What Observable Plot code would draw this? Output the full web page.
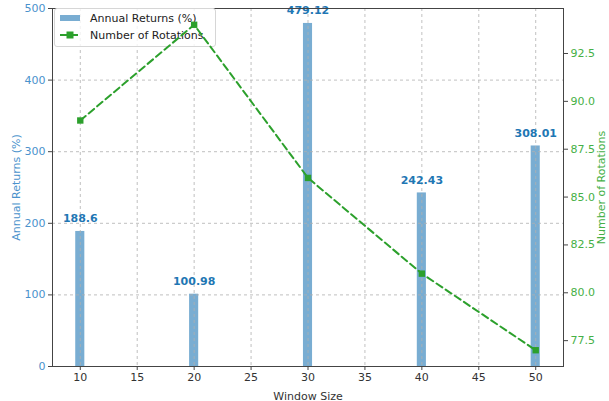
<!DOCTYPE html>
<html>
<head>
<meta charset="utf-8">
<script src="https://cdn.jsdelivr.net/npm/d3@7"></script>
<script src="https://cdn.jsdelivr.net/npm/@observablehq/plot@0.6"></script>
<style>
  html, body { margin: 0; padding: 0; background: #fff; }
  #wrap { position: relative; width: 609px; height: 401px; font-family: "DejaVu Sans", sans-serif; }
  #wrap > svg { position: absolute; left: 0; top: 0; }
  #legend { position: absolute; left: 54px; top: 8px; width: 160px; height: 37px; border: 1px solid #d6d6d6; border-radius: 3px; background: rgba(255,255,255,0.8); font-size: 11px; color: #222; }
  .row { position: absolute; left: 4px; height: 14px; display: flex; align-items: center; }
  .row span { margin-left: 9px; white-space: nowrap; }
</style>
</head>
<body>
<div id="wrap"></div>
<script>
const windowSizes = [10, 20, 30, 40, 50];
const annualReturns = [188.6, 100.98, 479.12, 242.43, 308.01];
const rotations = [89, 94, 86, 81, 77];
const xTicks = [10, 15, 20, 25, 30, 35, 40, 45, 50];
const leftTicks = [0, 100, 200, 300, 400, 500];
const rightTicks = [77.5, 80.0, 82.5, 85.0, 87.5, 90.0, 92.5];

const rotDomain = [76.15, 94.85];
const leftDomain = [0, 500];
const xDomain = [7.56, 52.44];
const toLeft = r => (r - rotDomain[0]) / (rotDomain[1] - rotDomain[0]) * (leftDomain[1] - leftDomain[0]) + leftDomain[0];

const data = windowSizes.map((w, i) => ({w, ret: annualReturns[i], rot: rotations[i], rotY: toLeft(rotations[i])}));
const barHalf = 0.4;

const blue = "#1f77b4";
const blueText = "#4a92cc";
const green = "#2ca02c";
const greenText = "#46b046";

const common = {
  width: 609,
  height: 401,
  marginLeft: 52,
  marginRight: 46,
  marginTop: 8,
  marginBottom: 35,
  x: {domain: xDomain},
  y: {domain: leftDomain}
};

const chart = Plot.plot({
  ...common,
  style: {fontFamily: "DejaVu Sans, sans-serif", fontSize: "11px", background: "white"},
  marks: [
    Plot.rectY(data, {x1: d => d.w - barHalf, x2: d => d.w + barHalf, y: "ret", fill: blue, fillOpacity: 0.6}),
    Plot.gridX(xTicks, {stroke: "#b0b0b0", strokeOpacity: 0.8, strokeDasharray: "3,3"}),
    Plot.gridY(leftTicks, {stroke: "#b0b0b0", strokeOpacity: 0.8, strokeDasharray: "3,3"}),
    Plot.text(data, {x: "w", y: "ret", text: d => String(d.ret), dy: -9, lineAnchor: "bottom", fill: blue, fontWeight: "bold", fontSize: 11}),
    Plot.frame({stroke: "#444"}),
    Plot.axisX(xTicks, {tickSize: 4, tickPadding: 3, stroke: "#444", fill: "#333", label: "Window Size", labelAnchor: "center", labelArrow: "none", labelOffset: 33, fontSize: 11}),
    Plot.axisY(leftTicks, {anchor: "left", tickSize: 4, tickPadding: 3, stroke: "#444", fill: blueText, label: "Annual Returns (%)", labelAnchor: "center", labelArrow: "none", labelOffset: 40, fontSize: 11}),
    Plot.axisY(rightTicks.map(toLeft), {anchor: "right", tickSize: 4, tickPadding: 3, stroke: "#444", fill: greenText, tickFormat: (v, i) => rightTicks[i].toFixed(1), label: "Number of Rotations", labelAnchor: "center", labelArrow: "none", labelOffset: 41, labelRotate: -90, fontSize: 11})
  ]
});

const overlay = Plot.plot({
  ...common,
  style: {background: "transparent"},
  marks: [
    Plot.line(data, {x: "w", y: "rotY", stroke: green, strokeWidth: 2, strokeDasharray: "7,4"}),
    Plot.dot(data, {x: "w", y: "rotY", symbol: "square", r: 3.6, fill: green, stroke: "none"})
  ],
  axis: null
});

const wrap = document.getElementById("wrap");
wrap.appendChild(chart);

const legend = document.createElement("div");
legend.id = "legend";
legend.innerHTML = `
  <div class="row" style="top:2px"><svg width="22" height="10"><rect x="1" y="2" width="20" height="6" fill="${blue}" fill-opacity="0.6"/></svg><span>Annual Returns (%)</span></div>
  <div class="row" style="top:19px"><svg width="22" height="10"><line x1="1" y1="5" x2="21" y2="5" stroke="${green}" stroke-width="2" stroke-dasharray="7,4"/><rect x="7.5" y="1.5" width="7" height="7" fill="${green}"/></svg><span>Number of Rotations</span></div>`;
wrap.appendChild(legend);
wrap.appendChild(overlay);
</script>
</body>
</html>
